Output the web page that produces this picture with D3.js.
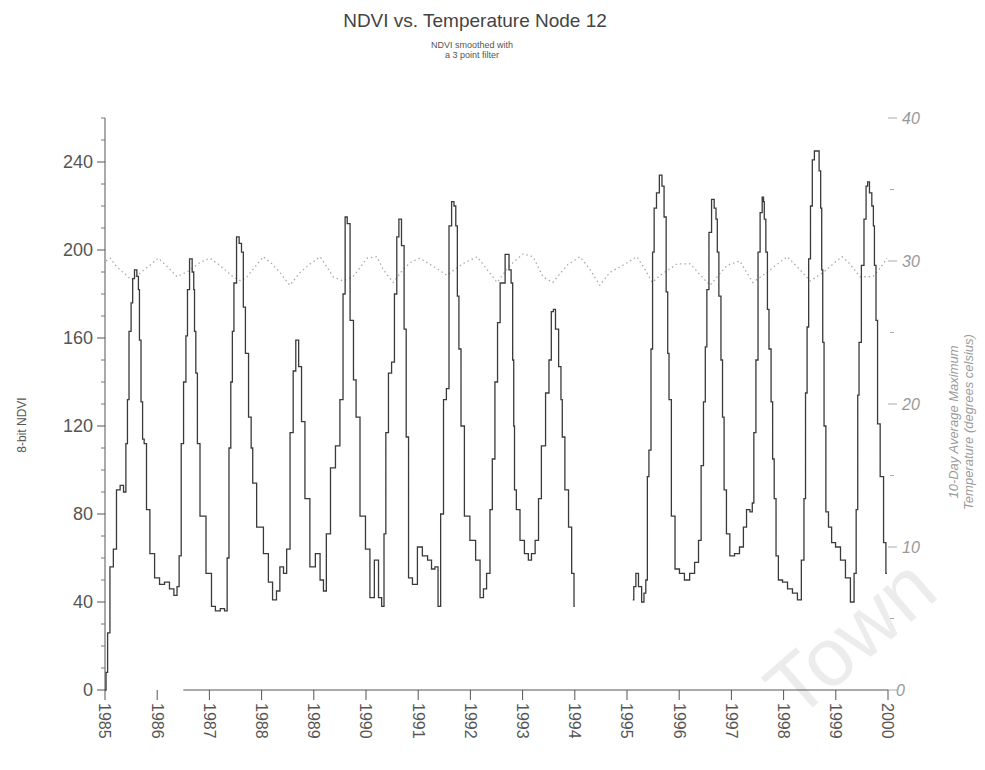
<!DOCTYPE html>
<html><head><meta charset="utf-8">
<script src="https://cdn.jsdelivr.net/npm/d3@7"></script>
<style>body{margin:0;background:#fff}svg{display:block}text{font-family:Arial,"Liberation Sans",sans-serif}</style>
</head><body><svg id="c" width="985" height="770"></svg>
<script>
const years = [1985,1986,1987,1988,1989,1990,1991,1992,1993,1994,1995,1996,1997,1998,1999,2000];
const ndviTicks = [0,40,80,120,160,200,240];
const tempTicks = [0,10,20,30,40];

// NDVI (8-bit), smoothed, decimal year -> value; null marks the data gap
const ndviYear = [1985.00,1985.04,1985.06,1985.13,1985.19,1985.25,1985.33,1985.38,1985.42,1985.44,1985.48,1985.52,1985.54,1985.59,1985.63,1985.65,1985.67,1985.71,1985.73,1985.77,1985.82,1985.90,1986.00,1986.09,1986.19,1986.28,1986.36,1986.40,1986.44,1986.48,1986.53,1986.57,1986.59,1986.65,1986.69,1986.71,1986.72,1986.76,1986.78,1986.86,1987.01,1987.07,1987.16,1987.26,1987.32,1987.36,1987.39,1987.43,1987.45,1987.49,1987.55,1987.59,1987.64,1987.66,1987.72,1987.78,1987.82,1987.84,1987.97,1988.10,1988.16,1988.26,1988.31,1988.39,1988.45,1988.51,1988.58,1988.63,1988.68,1988.74,1988.79,1988.87,1988.98,1989.08,1989.16,1989.21,1989.27,1989.37,1989.46,1989.54,1989.58,1989.62,1989.66,1989.73,1989.79,1989.83,1989.94,1990.04,1990.11,1990.21,1990.27,1990.33,1990.36,1990.40,1990.46,1990.52,1990.57,1990.61,1990.65,1990.71,1990.75,1990.79,1990.84,1990.94,1991.03,1991.13,1991.23,1991.28,1991.36,1991.40,1991.46,1991.51,1991.57,1991.61,1991.67,1991.70,1991.74,1991.76,1991.80,1991.84,1991.93,1992.05,1992.15,1992.22,1992.28,1992.34,1992.41,1992.43,1992.51,1992.53,1992.61,1992.72,1992.76,1992.80,1992.82,1992.84,1992.85,1992.91,1992.99,1993.08,1993.14,1993.20,1993.28,1993.33,1993.39,1993.49,1993.52,1993.58,1993.60,1993.66,1993.72,1993.75,1993.77,1993.85,1993.91,1993.97,1994.00,1994.50,1995.11,1995.15,1995.19,1995.25,1995.31,1995.34,1995.38,1995.40,1995.44,1995.48,1995.50,1995.54,1995.59,1995.65,1995.69,1995.73,1995.77,1995.79,1995.82,1995.88,1995.96,1996.05,1996.15,1996.25,1996.34,1996.40,1996.44,1996.49,1996.51,1996.55,1996.59,1996.65,1996.69,1996.72,1996.74,1996.78,1996.82,1996.84,1996.88,1996.93,1997.01,1997.11,1997.20,1997.26,1997.32,1997.39,1997.41,1997.45,1997.49,1997.53,1997.57,1997.61,1997.62,1997.64,1997.68,1997.70,1997.74,1997.78,1997.80,1997.84,1997.87,1997.93,1998.03,1998.12,1998.22,1998.31,1998.37,1998.41,1998.43,1998.47,1998.49,1998.54,1998.56,1998.62,1998.66,1998.70,1998.72,1998.74,1998.76,1998.79,1998.83,1998.89,1998.95,1999.04,1999.14,1999.23,1999.33,1999.37,1999.41,1999.43,1999.46,1999.52,1999.56,1999.60,1999.62,1999.67,1999.71,1999.73,1999.75,1999.79,1999.81,1999.89,1999.94,1999.98];
const ndviValue = [0,8,26,56,64,91,93,90,112,132,163,176,187,191,188,182,159,131,114,112,82,62,51,48,49,46,43,47,61,112,140,161,182,196,190,182,163,144,112,79,53,38,36,37,36,60,110,140,163,185,206,203,199,174,153,124,110,94,74,62,49,41,45,56,53,64,117,145,159,147,122,87,56,62,50,45,71,101,111,132,180,215,212,168,141,124,79,64,42,59,42,38,71,117,144,149,180,206,214,202,164,115,51,48,65,61,59,55,56,38,80,132,137,211,222,220,211,179,155,120,79,68,59,42,46,53,82,105,140,167,185,198,191,185,150,120,91,82,68,62,59,62,68,87,111,135,150,172,173,164,147,132,115,91,74,53,38,null,41,47,53,47,40,44,50,97,109,155,199,219,226,234,229,215,181,153,132,79,55,53,50,53,58,68,102,131,156,182,208,223,219,214,199,179,150,124,91,71,61,62,65,74,82,81,85,117,150,199,217,224,222,214,199,173,155,131,105,87,61,50,49,46,44,41,59,87,135,165,196,220,241,245,245,236,219,191,158,120,81,74,67,65,59,51,40,53,82,134,158,193,214,229,231,226,220,211,193,168,121,97,67,53];

// 10-day average maximum temperature (deg C)
const tempYear = [1985.02,1985.10,1985.22,1985.38,1985.50,1985.62,1985.86,1986.02,1986.20,1986.38,1986.60,1986.82,1987.01,1987.20,1987.45,1987.60,1987.72,1988.03,1988.20,1988.35,1988.54,1988.74,1988.93,1989.12,1989.25,1989.37,1989.56,1989.75,1989.90,1990.02,1990.21,1990.33,1990.52,1990.71,1990.85,1991.03,1991.30,1991.55,1991.85,1992.13,1992.32,1992.51,1992.76,1993.01,1993.20,1993.39,1993.58,1993.85,1994.10,1994.29,1994.48,1994.67,1994.92,1995.19,1995.38,1995.48,1995.67,1995.80,1995.96,1996.21,1996.46,1996.59,1996.75,1996.92,1997.16,1997.41,1997.68,1997.85,1998.07,1998.31,1998.51,1998.76,1998.95,1999.12,1999.27,1999.46,1999.71,1999.85,1999.98];
const tempValue = [30.0,30.2,29.6,29.1,28.7,29.0,29.7,30.2,29.6,28.9,29.3,29.9,30.2,29.7,28.9,28.6,28.9,30.3,29.8,29.2,28.3,29.2,29.8,30.3,29.6,28.9,28.6,28.9,29.6,30.2,30.3,29.4,28.5,29.4,29.9,30.2,29.6,29.0,29.8,30.3,29.4,28.5,29.7,30.5,30.3,28.9,28.5,29.7,30.3,29.4,28.3,29.2,29.7,30.3,29.2,28.5,29.1,29.4,29.8,29.8,28.8,28.3,29.0,29.7,30.0,28.5,29.2,29.7,30.3,29.4,28.6,29.2,29.8,30.3,29.8,28.9,28.9,29.5,30.2];

const svg = d3.select('#c');
const x = d3.scaleLinear().domain([1985,2000]).range([105,888]);
const yL = d3.scaleLinear().domain([0,260]).range([690,118]);
const yR = d3.scaleLinear().domain([0,40]).range([690,118]);

// watermark
svg.append('text').attr('transform','translate(850,637) rotate(-41)')
  .attr('text-anchor','middle').attr('dy','0.35em').attr('font-size',82).attr('fill','#ececec')
  .text('Town');

// titles
svg.append('text').attr('x',475).attr('y',27).attr('text-anchor','middle')
  .attr('font-size',19).attr('fill','#444').text('NDVI vs. Temperature Node 12');
svg.append('text').attr('x',472).attr('y',48).attr('text-anchor','middle')
  .attr('font-size',9).attr('fill','#555').text('NDVI smoothed with');
svg.append('text').attr('x',472).attr('y',58).attr('text-anchor','middle')
  .attr('font-size',9).attr('fill','#555').text('a 3 point filter');

// left axis
const gL = svg.append('g').attr('transform','translate(105,0)');
gL.append('line').attr('y1',yL(0)).attr('y2',yL(260)).attr('stroke','#555');
gL.selectAll('.mn').data(d3.range(0,261,10).filter(v=>v%40)).join('line')
  .attr('x1',-4).attr('x2',0).attr('y1',d=>yL(d)).attr('y2',d=>yL(d)).attr('stroke','#777');
gL.selectAll('.mj').data(ndviTicks).join('line')
  .attr('x1',-8).attr('x2',0).attr('y1',d=>yL(d)).attr('y2',d=>yL(d)).attr('stroke','#555');
gL.selectAll('.lb').data(ndviTicks).join('text')
  .attr('x',-12).attr('y',d=>yL(d)).attr('dy','0.35em').attr('text-anchor','end')
  .attr('font-size',18).attr('fill','#555').text(d=>d);
svg.append('text').attr('transform','translate(26,425) rotate(-90)').attr('text-anchor','middle')
  .attr('font-size',12).attr('fill','#555').text('8-bit NDVI');

// right axis (ticks only)
const gR = svg.append('g').attr('transform','translate(888,0)');
gR.selectAll('.mn').data([5,15,25,35]).join('line')
  .attr('x1',2).attr('x2',6).attr('y1',d=>yR(d)).attr('y2',d=>yR(d)).attr('stroke','#aaa');
gR.selectAll('.mj').data(tempTicks).join('line')
  .attr('x1',0).attr('x2',9).attr('y1',d=>yR(d)).attr('y2',d=>yR(d)).attr('stroke','#aaa');
gR.selectAll('.lb').data(tempTicks).join('text')
  .attr('x',d=>d===0?8:14).attr('y',d=>yR(d)).attr('dy','0.35em')
  .attr('font-size',16).attr('font-style','italic').attr('fill','#999').text(d=>d);
const rt = svg.append('text').attr('transform','translate(958,422) rotate(-90)').attr('text-anchor','middle')
  .attr('font-size',13).attr('font-style','italic').attr('fill','#9a9a9a');
rt.append('tspan').attr('x',0).attr('dy',0).text('10-Day Average Maximum');
rt.append('tspan').attr('x',0).attr('dy',15).text('Temperature (degrees celsius)');

// bottom axis
const gB = svg.append('g').attr('transform','translate(0,690)');
gB.append('line').attr('x1',x(1986.5)).attr('x2',x(2000)).attr('stroke','#555');
gB.selectAll('.tk').data(years).join('line')
  .attr('x1',d=>x(d)).attr('x2',d=>x(d)).attr('y1',0).attr('y2',10).attr('stroke','#555');
gB.selectAll('.lb').data(years).join('text')
  .attr('transform',d=>`translate(${x(d)},13) rotate(90)`).attr('dy','0.35em')
  .attr('font-size',16).attr('fill','#555').text(d=>d);

// temperature line
const tData = tempYear.map((t,i)=>({t,v:tempValue[i]}));
svg.append('path').datum(tData)
  .attr('d',d3.line().x(d=>x(d.t)).y(d=>yR(d.v)))
  .attr('fill','none').attr('stroke','#aaa').attr('stroke-width',1.3).attr('stroke-dasharray','1.5,3');

// NDVI line
const nData = ndviYear.map((t,i)=>({t,v:ndviValue[i]}));
svg.append('path').datum(nData)
  .attr('d',d3.line().defined(d=>d.v!==null).x(d=>x(d.t)).y(d=>yL(d.v)).curve(d3.curveStep))
  .attr('fill','none').attr('stroke','#3a3a3a').attr('stroke-width',1.3);
</script></body></html>
